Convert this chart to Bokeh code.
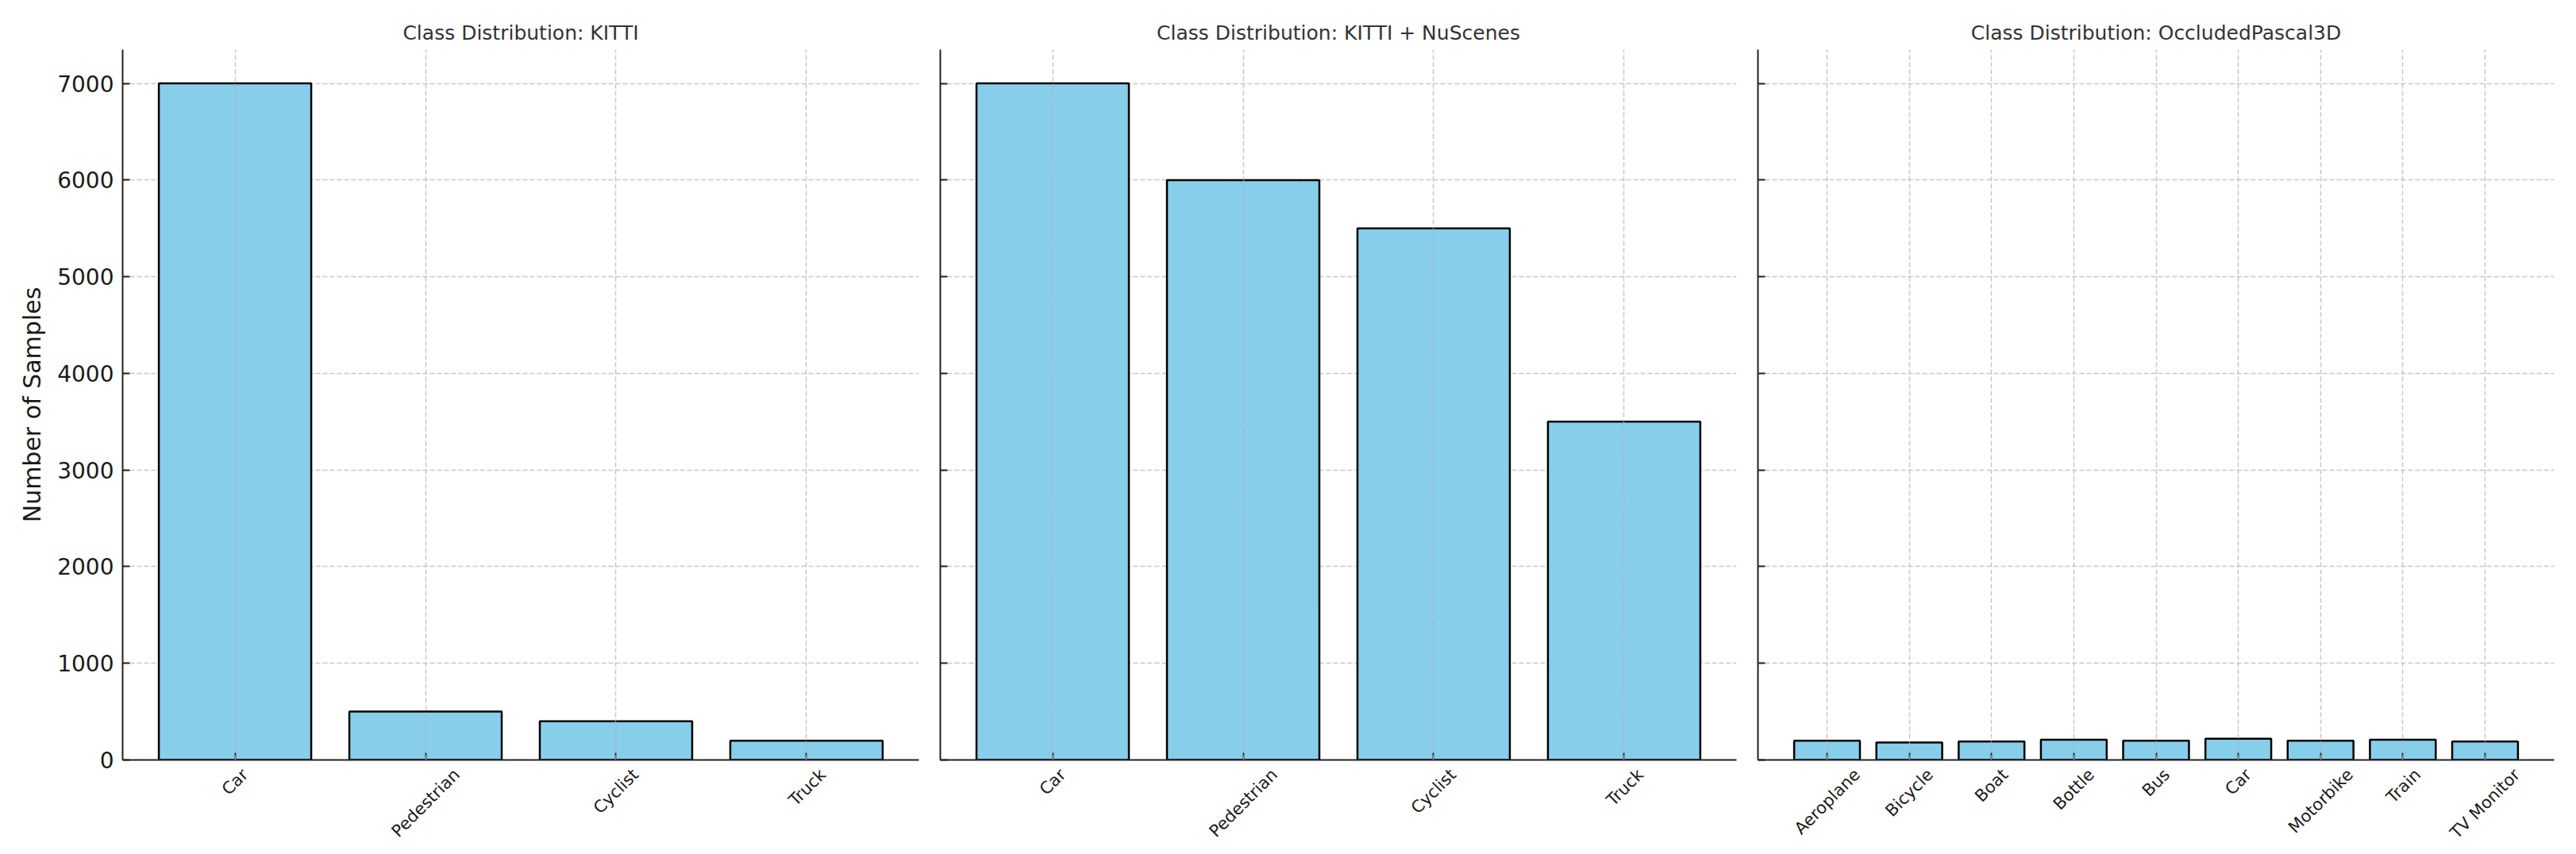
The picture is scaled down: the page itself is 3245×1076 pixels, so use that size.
import math
from bokeh.plotting import figure
from bokeh.models import Range1d, FixedTicker, LinearAxis
from bokeh.layouts import row
from bokeh.embed import file_html
from bokeh.resources import INLINE

# ---- data ----
kitti_classes = ["Car", "Pedestrian", "Cyclist", "Truck"]
kitti_counts = [7000, 500, 400, 200]

kn_classes = ["Car", "Pedestrian", "Cyclist", "Truck"]
kn_counts = [7000, 6000, 5500, 3500]

pascal_classes = ["Aeroplane", "Bicycle", "Boat", "Bottle", "Bus", "Car",
                  "Motorbike", "Train", "TV Monitor"]
pascal_counts = [200, 180, 190, 210, 200, 220, 200, 210, 190]

y_ticks = [0, 1000, 2000, 3000, 4000, 5000, 6000, 7000]
titles = ["Class Distribution: KITTI", "Class Distribution: KITTI + NuScenes",
          "Class Distribution: OccludedPascal3D"]
y_label = "Number of Samples"

# ---- styling / layout ----
FONT = "DejaVu Sans"
BAR_FILL = "#87CEEB"
TXT = "#1a1a1a"
XT_FS = 21
H = 1076
TOP = 62
AX_Y = 957
FRAME_W = 1003

# approximate DejaVu Sans advance widths (per 1000 em) for label layout
_W = {'A': 684, 'B': 686, 'C': 698, 'D': 770, 'M': 863, 'P': 603, 'T': 611, 'V': 684,
      'a': 613, 'b': 635, 'c': 550, 'd': 635, 'e': 615, 'i': 278, 'k': 579, 'l': 278,
      'n': 634, 'o': 612, 'p': 635, 'r': 411, 's': 521, 't': 392, 'u': 634, 'y': 592,
      ' ': 318}


def text_w(s, fs):
    return sum(_W.get(ch, 600) for ch in s) * fs / 1000.0


def make_panel(classes, counts, title, width, left, right, first):
    n = len(classes)
    m = 0.05 * (n - 0.2)
    x0, x1 = -0.4 - m, n - 0.6 + m
    ymax = max(max(kitti_counts), max(kn_counts), max(pascal_counts)) * 1.05
    p = figure(width=width, height=H,
               x_range=Range1d(x0, x1),
               y_range=Range1d(0, ymax),
               output_backend="svg", toolbar_location=None,
               min_border_left=left, min_border_right=right,
               min_border_top=TOP, min_border_bottom=H - AX_Y)
    p.outline_line_color = None
    p.background_fill_color = "white"
    p.border_fill_color = "white"

    p.title.text = title
    p.title.align = "center"
    p.title.text_font = FONT
    p.title.text_font_size = "25px"
    p.title.text_font_style = "normal"
    p.title.text_color = "#333333"
    p.title.standoff = 14

    xs = list(range(n))
    p.vbar(x=xs, top=counts, width=0.8, bottom=0,
           fill_color=BAR_FILL, line_color="black", line_width=2.5)

    # axes
    for ax in (p.xaxis, p.yaxis):
        ax.axis_line_width = 2
        ax.axis_line_color = "#222222"
        ax.major_tick_in = 9
        ax.major_tick_out = 0
        ax.major_tick_line_width = 1.8
        ax.major_tick_line_color = "#222222"
        ax.minor_tick_line_color = None
    p.xaxis.ticker = FixedTicker(ticks=xs)
    p.xaxis.major_label_overrides = {i: "" for i in xs}
    p.xaxis.major_label_text_font_size = "0px"
    p.xaxis.major_label_standoff = 0
    p.yaxis.ticker = FixedTicker(ticks=y_ticks)
    p.yaxis.major_label_standoff = 11
    if first:
        p.yaxis.major_label_text_font = FONT
        p.yaxis.major_label_text_font_size = "28px"
        p.yaxis.major_label_text_color = TXT
        p.yaxis.axis_label = y_label
        p.yaxis.axis_label_text_font = FONT
        p.yaxis.axis_label_text_font_size = "30px"
        p.yaxis.axis_label_text_font_style = "normal"
        p.yaxis.axis_label_text_color = TXT
        p.yaxis.axis_label_standoff = 11
    else:
        p.yaxis.major_label_overrides = {t: "" for t in y_ticks}

    # grid
    p.xgrid.grid_line_color = "#b0b0b0"
    p.xgrid.grid_line_alpha = 0.7
    p.xgrid.grid_line_dash = "6 3"
    p.xgrid.grid_line_width = 1.5
    p.xgrid.level = "annotation"
    p.ygrid.grid_line_color = "#b0b0b0"
    p.ygrid.grid_line_alpha = 0.7
    p.ygrid.grid_line_dash = "6 3"
    p.ygrid.grid_line_width = 1.5

    # rotated category labels, centred on their ticks like matplotlib:
    # a label-only axis whose ticks are nudged right by half the rotated width
    ppu = FRAME_W / (x1 - x0)
    lab_ticks, overrides = [], {}
    for i, name in enumerate(classes):
        t = round(i + text_w(name, XT_FS) / (2 * math.sqrt(2)) / ppu, 4)
        lab_ticks.append(t)
        overrides[t] = name
    lab_ax = LinearAxis(ticker=FixedTicker(ticks=lab_ticks),
                        major_label_overrides=overrides,
                        major_label_orientation=math.pi / 4,
                        axis_line_color=None, major_tick_line_color=None,
                        minor_tick_line_color=None,
                        major_tick_in=0, major_tick_out=0,
                        major_label_standoff=15,
                        major_label_text_font=FONT,
                        major_label_text_font_size=f"{XT_FS}px",
                        major_label_text_color=TXT)
    p.add_layout(lab_ax, "below")
    return p


p1 = make_panel(kitti_classes, kitti_counts, titles[0], 1170, 154, 13, True)
p2 = make_panel(kn_classes, kn_counts, titles[1], 1030, 14, 13, False)
p3 = make_panel(pascal_classes, pascal_counts, titles[2], 1037, 14, 20, False)

layout = row(p1, p2, p3)
open("out.html", "w").write(file_html(layout, INLINE))
